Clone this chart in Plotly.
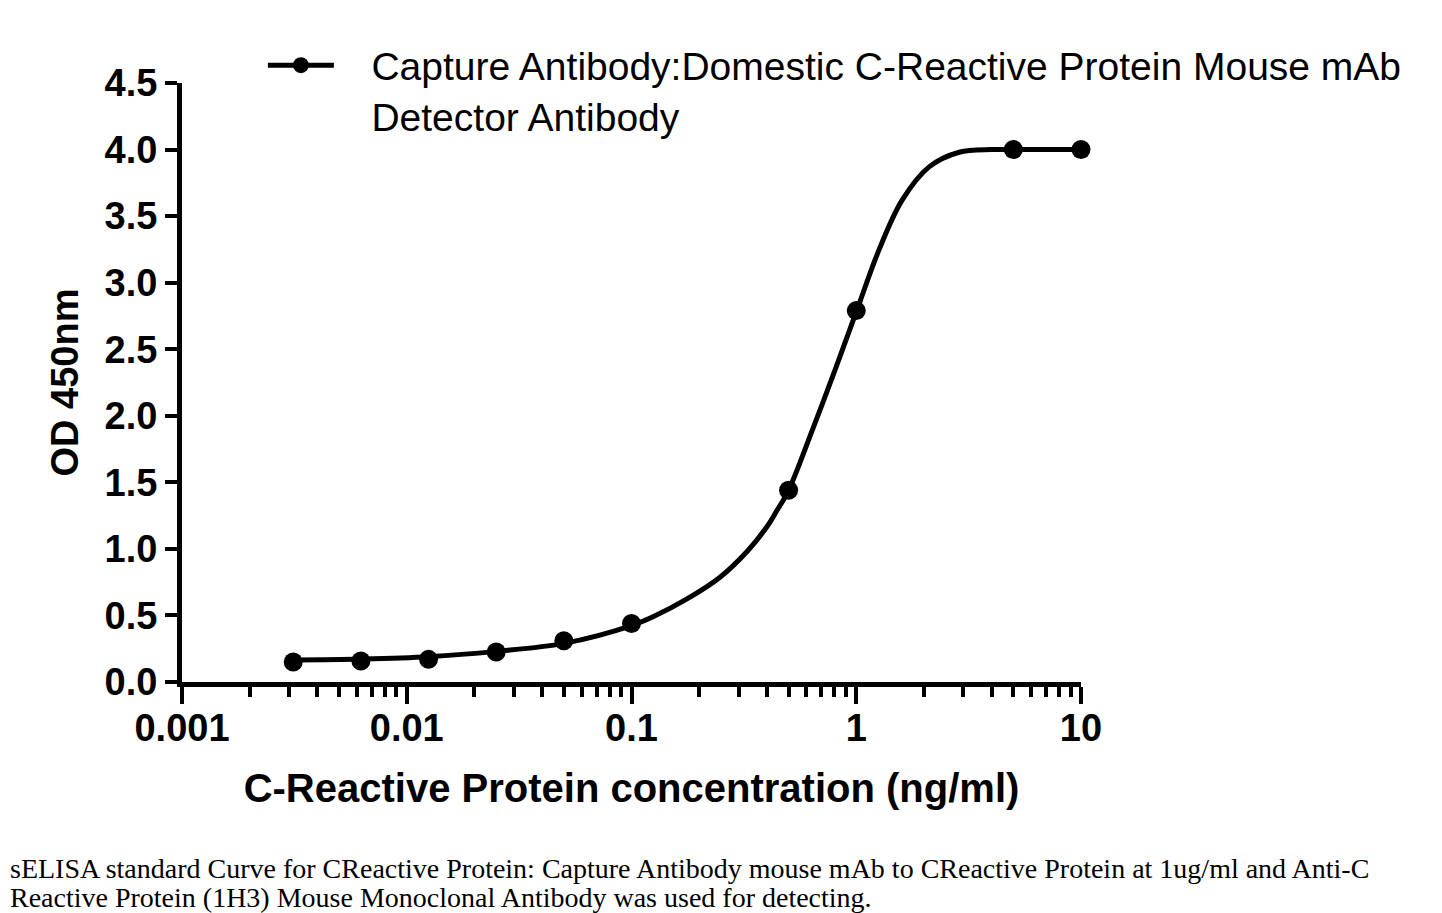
import plotly.graph_objects as go

# Measured standards
conc = [0.003125, 0.00625, 0.0125, 0.025, 0.05, 0.1, 0.5, 1.0, 5.0, 10.0]
od = [0.15, 0.158, 0.17, 0.225, 0.31, 0.44, 1.44, 2.79, 4.0, 4.0]

# Fitted curve
curve_conc = [0.003125, 0.00625, 0.0125, 0.025, 0.05, 0.1, 0.1247, 0.1766, 0.2477, 0.3266, 0.401, 0.4436,
              0.5, 0.637, 0.815, 1.0, 1.265, 1.60, 2.11, 2.87, 4.0, 5.0, 10.0]
curve_od = [0.165, 0.172, 0.19, 0.23, 0.29, 0.424, 0.49, 0.624, 0.787, 0.98, 1.168, 1.288,
            1.44, 1.89, 2.37, 2.78, 3.25, 3.62, 3.87, 3.98, 4.0, 4.0, 4.0]

x_ticks = [0.001, 0.01, 0.1, 1, 10]
x_ticktext = ["0.001", "0.01", "0.1", "1", "10"]
y_ticks = [0, 0.5, 1.0, 1.5, 2.0, 2.5, 3.0, 3.5, 4.0, 4.5]
y_ticktext = ["0.0", "0.5", "1.0", "1.5", "2.0", "2.5", "3.0", "3.5", "4.0", "4.5"]

pad = "&nbsp;&nbsp;&nbsp;"
legend_name = (pad + "Capture Antibody:Domestic C-Reactive Protein Mouse mAb<br>"
               + pad + "Detector Antibody")
caption_1 = ("sELISA standard Curve for CReactive Protein: Capture Antibody mouse mAb to CReactive Protein "
             "at 1ug/ml and Anti-C")
caption_2 = "Reactive Protein (1H3) Mouse Monoclonal Antibody was used for detecting."

fig = go.Figure()
fig.add_trace(go.Scatter(
    x=curve_conc, y=curve_od, mode="lines", line=dict(color="black", width=5, shape="spline", smoothing=1.0),
    showlegend=False, hoverinfo="skip", cliponaxis=False))
fig.add_trace(go.Scatter(
    x=conc, y=od, mode="markers", name=legend_name,
    marker=dict(color="black", size=19), cliponaxis=False, showlegend=False))
# legend entry (line + marker)
fig.add_trace(go.Scatter(
    x=[None], y=[None], mode="lines+markers", name=legend_name,
    line=dict(color="black", width=5), marker=dict(color="black", size=17), showlegend=True))

font_ax = "Liberation Sans"
fig.update_layout(
    width=1442, height=913,
    paper_bgcolor="white", plot_bgcolor="white",
    margin=dict(l=182, r=361, t=83, b=231),
    font=dict(family=font_ax, color="black"),
    xaxis=dict(
        type="log", range=[-3, 1], tickvals=x_ticks, ticktext=x_ticktext,
        showgrid=False, zeroline=False, showline=True, linecolor="black", linewidth=5,
        ticks="outside", ticklen=17, tickwidth=4, tickcolor="black", ticklabelstandoff=-9,
        tickfont=dict(size=38, family=font_ax, weight="bold"),
        minor=dict(ticks="outside", ticklen=10, tickwidth=4, tickcolor="black", dtick="D1", showgrid=False),
        title=dict(text="<b>C-Reactive Protein concentration (ng/ml)</b>", font=dict(size=40), standoff=28),
    ),
    yaxis=dict(
        range=[0, 4.5], tickvals=y_ticks, ticktext=y_ticktext,
        showgrid=False, zeroline=False, showline=True, linecolor="black", linewidth=5,
        ticks="outside", ticklen=12, tickwidth=4, tickcolor="black",
        tickfont=dict(size=38, family=font_ax, weight="bold"),
        title=dict(text="<b>OD 450nm</b>", font=dict(size=38), standoff=16),
    ),
    legend=dict(
        x=0.09, y=1.083, xanchor="left", yanchor="top", bgcolor="rgba(0,0,0,0)",
        font=dict(size=39, family=font_ax), itemwidth=66, tracegroupgap=0, valign="top",
    ),
    annotations=[
        dict(text=caption_1, xref="paper", yref="paper", x=-174/899, y=-186/599,
             xanchor="left", yanchor="middle", align="left", showarrow=False,
             font=dict(family="Liberation Serif", size=28, color="black")),
        dict(text=caption_2, xref="paper", yref="paper", x=-174/899, y=-216/599,
             xanchor="left", yanchor="middle", align="left", showarrow=False,
             font=dict(family="Liberation Serif", size=28, color="black")),
    ],
)

fig.write_html("out.html")
